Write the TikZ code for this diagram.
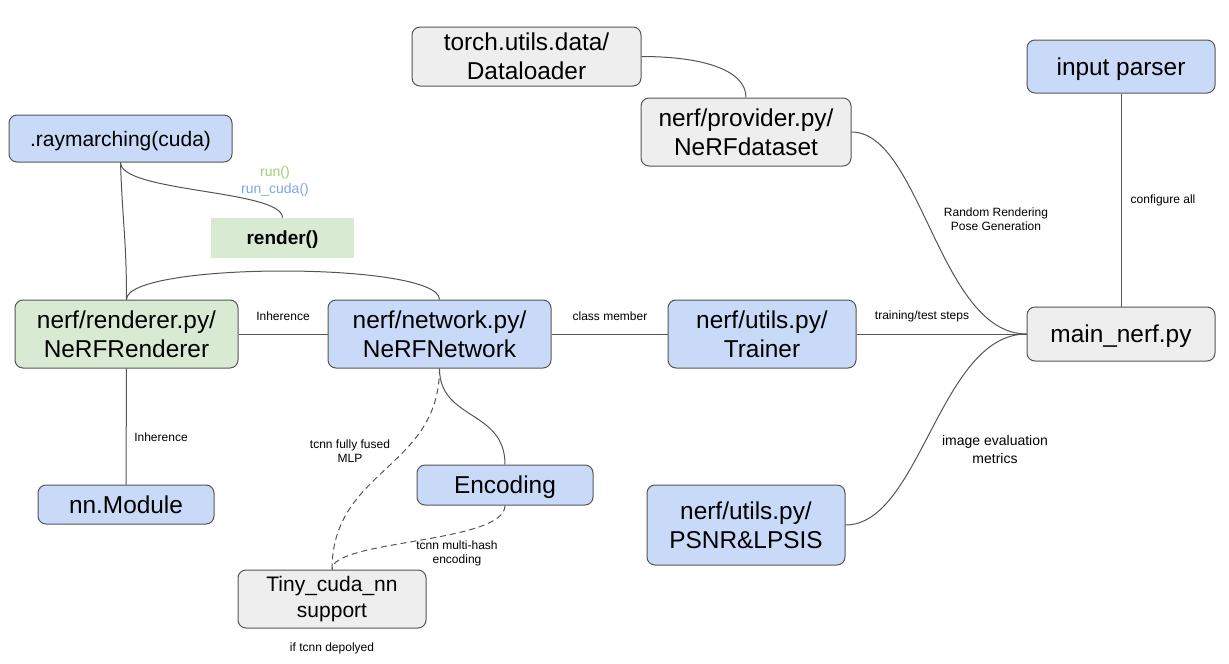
\documentclass[tikz,border=0pt]{standalone}
\usepackage{fontspec}
\setmainfont{Liberation Sans}
\definecolor{bluefill}{HTML}{C9DAF8}
\definecolor{greenfill}{HTML}{D9EAD3}
\definecolor{grayfill}{HTML}{EEEEEE}
\definecolor{strokec}{HTML}{555555}
\definecolor{rungreen}{HTML}{97D077}
\definecolor{runblue}{HTML}{7EA6E0}
\newcommand\boxnode[7]{\node[#1, minimum width={(#5-#3)*0.75pt}, minimum height={(#6-#4)*0.75pt}] (#2) at ({(#3+#5)/2},{(#4+#6)/2}) {#7};}
\tikzset{
  base/.style={draw=strokec, line width=0.75pt, rounded corners=6pt, inner sep=0pt, align=center, font=\fontsize{18.3}{21.8}\selectfont},
  bluebox/.style={base, fill=bluefill},
  greenbox/.style={base, fill=greenfill},
  graybox/.style={base, fill=grayfill},
  oneline/.style={text height=13.1pt, text depth=0pt},
  smallone/.style={text height=11.3pt, text depth=0pt},
  smallbox/.style={font=\fontsize{15.75}{19}\selectfont},
  lbl/.style={align=center, inner sep=0pt, font=\fontsize{9}{10.5}\selectfont},
  midlbl/.style={align=center, inner sep=0pt, font=\fontsize{10.5}{13.5}\selectfont},
  conn/.style={draw=strokec, line width=0.75pt},
  dconn/.style={conn, dash pattern=on 4.5pt off 3pt},
}
\begin{document}
\begin{tikzpicture}[x=0.75pt,y=-0.75pt]
\useasboundingbox (0,0) rectangle (1229,664);
% nodes
\boxnode{graybox}{torch}{412}{27}{641}{86}{torch.utils.data/\\Dataloader}
\boxnode{graybox}{provider}{641}{98}{851}{166}{nerf/provider.py/\\NeRFdataset}
\boxnode{bluebox, oneline}{parser}{1027}{40}{1215}{93}{input parser}
\boxnode{bluebox, smallbox, smallone}{ray}{9}{115}{232}{162}{.raymarching(cuda)}
\node[fill=greenfill, minimum width={143*0.75pt}, minimum height={40*0.75pt}, inner sep=0pt, text height=10.2pt, text depth=0pt, font=\fontsize{14.25}{17}\selectfont\bfseries] (render) at (282.5,238) {render()};
\boxnode{greenbox}{renderer}{15}{300}{238}{368}{nerf/renderer.py/\\NeRFRenderer}
\boxnode{bluebox}{network}{328}{300}{551}{368}{nerf/network.py/\\NeRFNetwork}
\boxnode{bluebox}{trainer}{668}{300}{856}{368}{nerf/utils.py/\\Trainer}
\boxnode{graybox, oneline}{main}{1027}{307}{1215}{361}{main\_nerf.py}
\boxnode{bluebox, oneline}{nnmod}{38}{485}{214}{524}{nn.Module}
\boxnode{bluebox, oneline}{enc}{417}{465}{593}{505}{Encoding}
\boxnode{graybox, smallbox}{tiny}{238}{570}{426}{628}{Tiny\_cuda\_nn\\support}
\boxnode{bluebox}{psnr}{647}{485}{845}{565}{nerf/utils.py/\\PSNR\&LPSIS}
% connectors
\draw[conn] (torch.east) .. controls +(60,0) and +(0,-28) .. (provider.north);
\draw[conn] (provider.east) .. controls +(69,0) and +(-87,0) .. (main.west);
\draw[conn] (parser.south) -- (main.north);
\draw[conn] (trainer.east) -- (main.west);
\draw[conn] (psnr.east) .. controls +(75,0) and +(-87,0) .. (main.west);
\draw[conn] (ray.south) .. controls +(2,60) and +(0,-60) .. (renderer.north);
\draw[conn] (ray.south) .. controls +(0,30) and +(0,-28) .. (render.north);
\draw[conn] (renderer.north) .. controls +(0,-38) and +(0,-38) .. (network.north);
\draw[conn] (renderer.east) -- (network.west);
\draw[conn] (network.east) -- (trainer.west);
\draw[conn] (renderer.south) -- (nnmod.north);
\draw[conn] (network.south) .. controls +(0,52) and +(0,-55) .. (enc.north);
\draw[dconn] (network.south) .. controls +(0,100) and +(0,-100) .. (tiny.north);
\draw[dconn] (enc.south) .. controls +(0,38) and +(0,-30) .. (tiny.north);
% labels
\node[lbl] (l1) at (283,316) {Inherence};
\node[lbl] (l2) at (610,316) {class member};
\node[lbl] (l3) at (922,316) {training/test steps};
\node[lbl] (l4) at (996,219) {Random Rendering\\Pose Generation};
\node[lbl] (l5) at (1163,200) {configure all};
\node[lbl] (l6) at (161,437) {Inherence};
\node[lbl] (l7) at (350,451) {tcnn fully fused\\MLP};
\node[lbl] (l8) at (457,553) {tcnn multi-hash\\encoding};
\node[midlbl] (l9) at (995,449) {image evaluation\\metrics};
\node[lbl] (l10) at (332,648) {if tcnn depolyed};
\node[inner sep=0pt, font=\fontsize{10.5}{12.75}\selectfont, text=rungreen] (l11) at (275,172.5) {run()};
\node[inner sep=0pt, font=\fontsize{10.5}{12.75}\selectfont, text=runblue] (l12) at (275,189.5) {run\_cuda()};
\end{tikzpicture}
\end{document}
